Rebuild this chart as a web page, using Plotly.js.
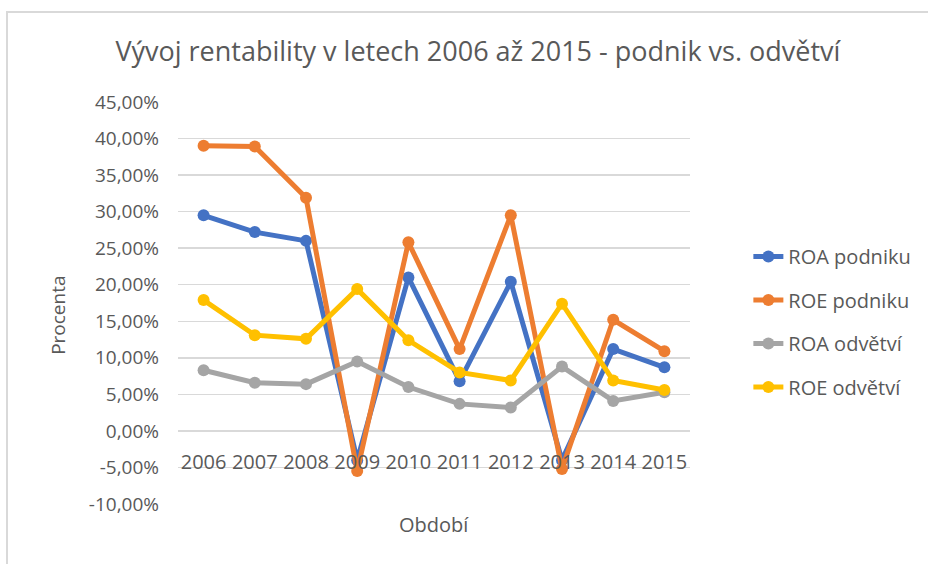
<!DOCTYPE html>
<html>
<head>
<meta charset="utf-8">
<script src="https://cdn.plot.ly/plotly-3.0.1.min.js"></script>
<style>
html,body{margin:0;padding:0;background:#fff;}
#wrap{position:relative;width:928px;height:564px;overflow:hidden;}
#chart{width:928px;height:564px;}
#frame{position:absolute;left:6px;top:11px;width:940px;height:570px;border-left:2px solid #d9d9d9;border-top:2px solid #d9d9d9;pointer-events:none;}
</style>
</head>
<body>
<div id="wrap"><div id="chart"></div><div id="frame"></div></div>
<script>
const years = ['2006','2007','2008','2009','2010','2011','2012','2013','2014','2015'];
const roaPodniku = [29.5, 27.2, 26.0, -4.0, 21.0, 6.8, 20.4, -4.0, 11.2, 8.7];
const roePodniku = [39.0, 38.9, 31.9, -5.5, 25.8, 11.2, 29.5, -5.2, 15.2, 10.9];
const roaOdvetvi = [8.3, 6.6, 6.4, 9.5, 6.0, 3.7, 3.2, 8.8, 4.1, 5.3];
const roeOdvetvi = [17.9, 13.1, 12.6, 19.4, 12.4, 8.0, 6.9, 17.4, 6.9, 5.6];
const seriesNames = ['ROA podniku', 'ROE podniku', 'ROA odvětví', 'ROE odvětví'];
const seriesColors = ['#4472C4', '#ED7D31', '#A5A5A5', '#FFC000'];
const yTickVals = [-10, -5, 0, 5, 10, 15, 20, 25, 30, 35, 40, 45];
const yTickText = ['-10,00%', '-5,00%', '0,00%', '5,00%', '10,00%', '15,00%', '20,00%', '25,00%', '30,00%', '35,00%', '40,00%', '45,00%'];

const allSeries = [roaPodniku, roePodniku, roaOdvetvi, roeOdvetvi];
const font = 'Open Sans, Liberation Sans, sans-serif';
const traces = allSeries.map((vals, i) => ({
  type: 'scatter', mode: 'lines+markers',
  x: years, y: vals, name: seriesNames[i],
  legendgroup: 'g' + i,
  line: {color: seriesColors[i], width: 5},
  marker: {color: seriesColors[i], size: 12},
  hoverinfo: 'skip'
}));

const yMin = -10, yMax = 45;
const layout = {
  width: 928, height: 564,
  margin: {l: 178, r: 233, t: 102, b: 60},
  paper_bgcolor: '#fff', plot_bgcolor: '#fff',
  font: {family: font, color: '#595959', size: 19},
  title: {
    text: 'Vývoj rentability v letech 2006 až 2015 - podnik vs. odvětví',
    font: {family: font, size: 27, color: '#595959'},
    x: 0.515, xref: 'container', xanchor: 'center',
    y: 0.908, yref: 'container', yanchor: 'middle'
  },
  xaxis: {
    type: 'category', range: [-0.5, 9.5],
    showgrid: false, zeroline: false, showline: false, ticks: '',
    anchor: 'free', position: (0 - yMin) / (yMax - yMin),
    ticklabelstandoff: 17,
    tickfont: {size: 20, color: '#595959'}
  },
  yaxis: {
    range: [yMin, yMax], tickvals: yTickVals, ticktext: yTickText,
    showgrid: true, gridcolor: '#d9d9d9', gridwidth: 1.5,
    zeroline: false, showline: false, ticks: '',
    ticklabelstandoff: 18,
    tickfont: {size: 19, color: '#595959'}
  },
  legend: {
    x: 1.114, xanchor: 'left', y: 0.664, yanchor: 'top',
    traceorder: 'grouped', tracegroupgap: 14.5,
    font: {size: 20, color: '#595959'}, bgcolor: 'rgba(0,0,0,0)'
  },
  annotations: [
    {text: 'Procenta', xref: 'paper', yref: 'paper', x: 0, y: 0.468, xshift: -120,
     textangle: -90, showarrow: false, xanchor: 'center', yanchor: 'middle',
     font: {size: 19, color: '#595959'}},
    {text: 'Období', xref: 'paper', yref: 'paper', x: 0.5, y: 0, yshift: -5,
     showarrow: false, xanchor: 'center', yanchor: 'top',
     font: {size: 20, color: '#595959'}}
  ],
  showlegend: true
};
Plotly.newPlot('chart', traces, layout, {staticPlot: true, displayModeBar: false});
</script>
</body>
</html>
